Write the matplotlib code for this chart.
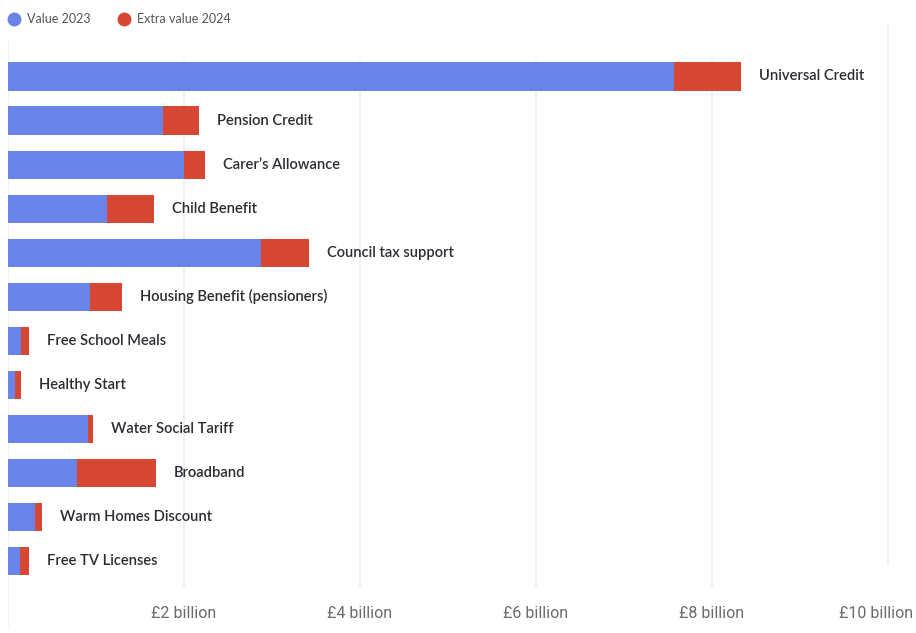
import matplotlib.pyplot as plt
from matplotlib.lines import Line2D

# Benefit take-up values, £ billion
categories = [
    "Universal Credit", "Pension Credit", "Carer\u2019s Allowance", "Child Benefit",
    "Council tax support", "Housing Benefit (pensioners)", "Free School Meals",
    "Healthy Start", "Water Social Tariff", "Broadband", "Warm Homes Discount",
    "Free TV Licenses",
]
value_2023 = [7.57, 1.76, 2.00, 1.12, 2.88, 0.93, 0.15, 0.076, 0.91, 0.78, 0.31, 0.14]
total_2024 = [8.33, 2.17, 2.24, 1.66, 3.42, 1.29, 0.24, 0.144, 0.97, 1.68, 0.39, 0.24]
extra_2024 = [t - v for t, v in zip(total_2024, value_2023)]

ticks = [2, 4, 6, 8, 10]
tick_labels = ["£2 billion", "£4 billion", "£6 billion", "£8 billion", "£10 billion"]

blue = "#6b84ea"
red = "#d64834"
grid_col = "#efefef"

W, H = 916, 633
fig = plt.figure(figsize=(W / 100, H / 100), dpi=100)
ax = fig.add_axes([8 / W, 0, 880 / W, 1])

ypos = list(range(len(categories)))
ax.barh(ypos, value_2023, height=0.64, color=blue, zorder=3)
ax.barh(ypos, extra_2024, left=value_2023, height=0.64, color=red, zorder=3)

for y, name, tot in zip(ypos, categories, total_2024):
    ax.annotate(name, (tot, y), xytext=(13, 0), textcoords="offset points",
                va="center", ha="left", fontsize=10.6, color="#2b2d33",
                family="Lato", fontweight="semibold")

# rows sit 44px apart, first row centred ~76px from the top
ax.set_ylim((H - 76.5) / 44.05, -76.5 / 44.05)
ax.set_xlim(0, 10)

# light vertical gridlines
for t in ticks[:-1]:
    ax.axvline(t, ymin=1 - 586 / H, ymax=1 - 61 / H, color=grid_col, lw=1.3, zorder=1)
ax.axvline(10, ymin=1 - 563 / H, ymax=1 - 25 / H, color=grid_col, lw=1.3, zorder=1, clip_on=False)
ax.axvline(0, ymin=1 - 625 / H, ymax=1 - 40 / H, color=grid_col, lw=1.3, zorder=1)

for t, lab in zip(ticks, tick_labels):
    if t == 10:
        ax.text(10.28, 1 - 613 / H, lab, transform=ax.get_xaxis_transform(),
                ha="right", va="center", fontsize=11.5, color="#6b6b6b", family="Roboto",
                clip_on=False)
    else:
        ax.text(t, 1 - 613 / H, lab, transform=ax.get_xaxis_transform(),
                ha="center", va="center", fontsize=11.5, color="#6b6b6b", family="Roboto")

ax.set_xticks([])
ax.set_yticks([])
for s in ax.spines.values():
    s.set_visible(False)

handles = [
    Line2D([], [], marker="o", ls="", markersize=9, color=blue, label="Value 2023"),
    Line2D([], [], marker="o", ls="", markersize=9, color=red, label="Extra value 2024"),
]
fig.legend(handles=handles, loc="center left", bbox_to_anchor=(-0.011, 1 - 19 / H),
           ncol=2, frameon=False, handletextpad=0.1, columnspacing=1.6,
           prop={"family": "Lato", "size": 9}, labelcolor="#555555")

fig.savefig("out.png", dpi=100, facecolor="white")
